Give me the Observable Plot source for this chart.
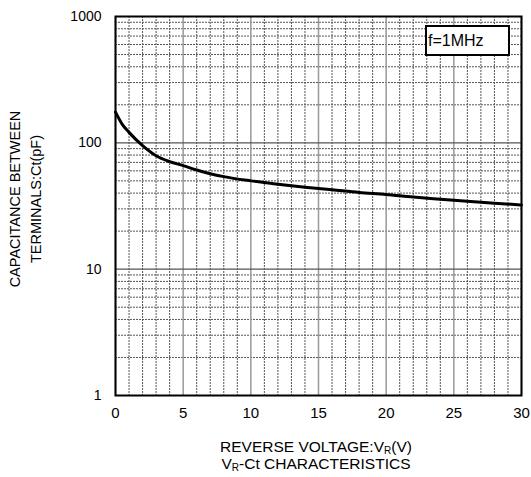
<!DOCTYPE html>
<html>
<head>
<meta charset="utf-8">
<script src="https://cdn.jsdelivr.net/npm/d3@7"></script>
<script src="https://cdn.jsdelivr.net/npm/@observablehq/plot@0.6"></script>
<style>
  html, body { margin: 0; padding: 0; background: #fff; }
  #wrap { position: relative; width: 531px; height: 477px; font-family: "Liberation Sans", Arial, sans-serif; }
  #note { position: absolute; left: 425px; top: 25px; width: 80px; height: 27px; border: 2px solid #000; background: #fff;
          font-size: 16px; line-height: 27px; padding-left: 1px; box-sizing: content-box; }
</style>
</head>
<body>
<div id="wrap"></div>
<script>
// Data
const voltage = [0, 0.5, 1, 2, 3, 4, 5, 6, 7, 8, 10, 12, 14, 16, 18, 20, 22, 24, 26, 28, 30];
const capacitance = [175, 140, 121, 95, 79, 71, 66, 61, 57, 54, 50, 47, 44.5, 42.5, 40.5, 39, 37.2, 35.8, 34.5, 33.3, 32.2];

// Tick / grid values
const xTicks = [0, 5, 10, 15, 20, 25, 30];
const xMinor = [1, 2, 3, 4, 6, 7, 8, 9, 11, 12, 13, 14, 16, 17, 18, 19, 21, 22, 23, 24, 26, 27, 28, 29];
const yTicks = [1, 10, 100, 1000];
const yMinor = [2, 3, 4, 5, 6, 7, 8, 9, 20, 30, 40, 50, 60, 70, 80, 90, 200, 300, 400, 500, 600, 700, 800, 900];

const data = voltage.map((v, i) => ({v, c: capacitance[i]}));

const chart = Plot.plot({
  width: 531,
  height: 477,
  marginLeft: 115,
  marginRight: 10,
  marginTop: 16,
  marginBottom: 82,
  style: {fontFamily: '"Liberation Sans", Arial, sans-serif', fontSize: "14px", background: "#fff"},
  x: {domain: [0, 30]},
  y: {type: "log", domain: [1, 1000]},
  marks: [
    Plot.ruleX(xMinor, {stroke: "#555", strokeWidth: 1, strokeDasharray: "2,1"}),
    Plot.ruleY(yMinor, {stroke: "#555", strokeWidth: 1, strokeDasharray: "2,1"}),
    Plot.ruleX(xTicks, {stroke: "#999", strokeWidth: 1.5}),
    Plot.ruleY(yTicks, {stroke: "#555", strokeWidth: 1.2}),
    Plot.line(data, {x: "v", y: "c", stroke: "#000", strokeWidth: 3, curve: "monotone-x"}),
    Plot.frame({stroke: "#000", strokeWidth: 2}),
    Plot.axisX({ticks: xTicks, tickSize: 0, tickPadding: 12, label: null, fontSize: 15}),
    Plot.axisY({ticks: yTicks, tickSize: 0, tickPadding: 14, tickFormat: d => String(d), label: null, fontSize: 14})
  ]
});

document.getElementById("wrap").appendChild(chart);

const svg = d3.select(chart);
// X axis title (two lines, with subscripts)
const t1 = svg.append("text").attr("x", 316).attr("y", 452).attr("text-anchor", "middle")
  .attr("font-size", 15.5).attr("fill", "#000");
t1.append("tspan").text("REVERSE VOLTAGE:V");
t1.append("tspan").attr("font-size", 10).attr("dy", 2).text("R");
t1.append("tspan").attr("dy", -2).text("(V)");
const t2 = svg.append("text").attr("x", 316).attr("y", 469).attr("text-anchor", "middle")
  .attr("font-size", 15.5).attr("fill", "#000");
t2.append("tspan").text("V");
t2.append("tspan").attr("font-size", 10).attr("dy", 2).text("R");
t2.append("tspan").attr("dy", -2).text("-Ct CHARACTERISTICS");

// Y axis title (rotated, two lines)
const yt = svg.append("text").attr("transform", "translate(0,199) rotate(-90)").attr("text-anchor", "middle")
  .attr("font-size", 14.5).attr("fill", "#000");
yt.append("tspan").attr("x", 0).attr("y", 20).text("CAPACITANCE BETWEEN");
yt.append("tspan").attr("x", 0).attr("y", 41).text("TERMINALS:Ct(pF)");

// Condition note
const note = document.createElement("div");
note.id = "note";
note.textContent = "f=1MHz";
document.getElementById("wrap").appendChild(note);
</script>
</body>
</html>
